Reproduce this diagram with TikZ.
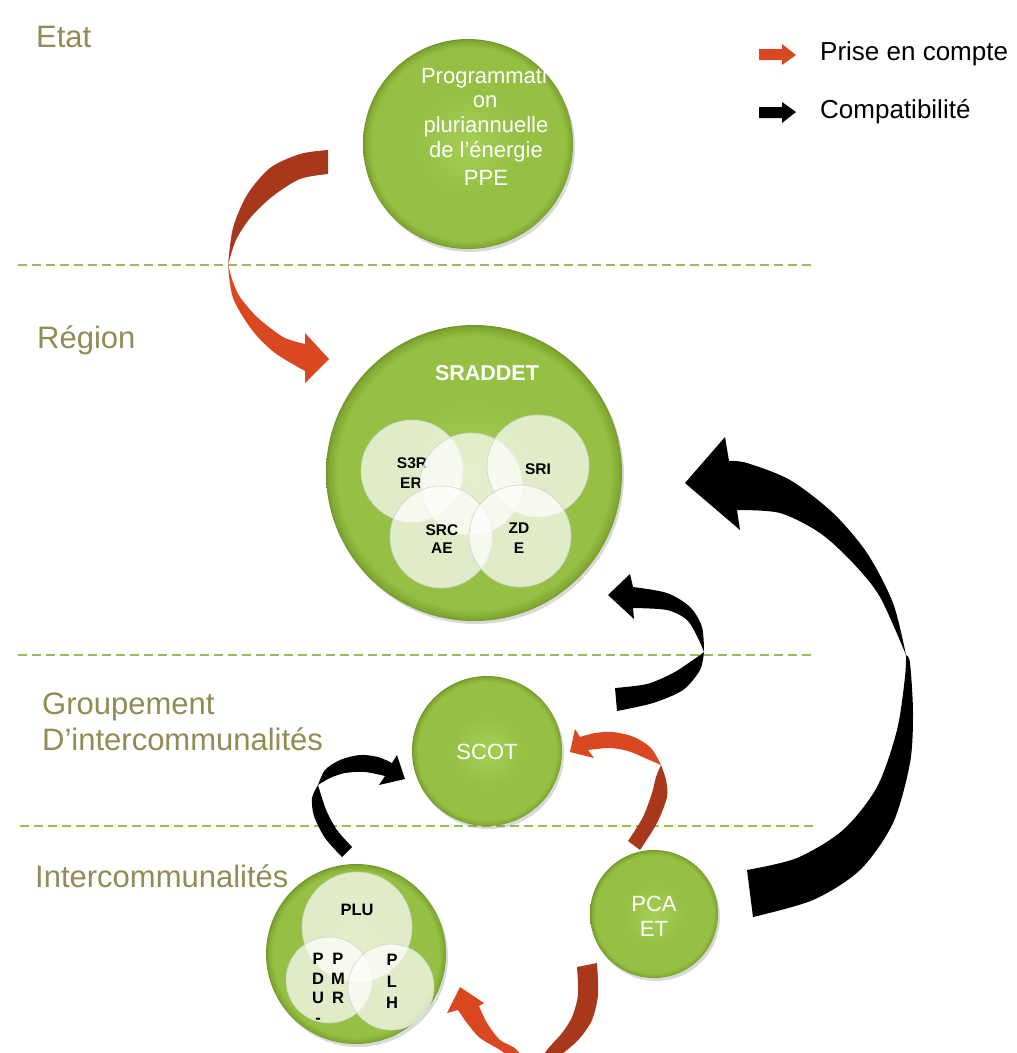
\documentclass[tikz,border=0pt]{standalone}
\usepackage{fontspec}
\setmainfont{Liberation Sans}
\usetikzlibrary{shadows}
\definecolor{olivetxt}{RGB}{148,138,84}
\definecolor{dashgreen}{RGB}{155,187,89}
\definecolor{arrowdark}{RGB}{168,56,28}
\definecolor{arrowbright}{RGB}{217,72,32}
\definecolor{gA}{RGB}{166,206,86}
\definecolor{gB}{RGB}{150,192,68}
\definecolor{gC}{RGB}{128,168,50}
\definecolor{gD}{RGB}{112,150,40}
\pgfdeclareradialshading{greenball}{\pgfpoint{0bp}{0bp}}{color(0bp)=(gA); color(12bp)=(gB); color(23bp)=(gB); color(24.6bp)=(gC); color(25bp)=(gD); color(50bp)=(gD)}
\tikzset{
  bigc/.style={circle, shading=greenball, minimum size=#1, inner sep=0pt,
    drop shadow={opacity=0.3, shadow xshift=2pt, shadow yshift=-3pt}},
  softc/.style={circle, fill=white, fill opacity=0.7, draw=black!18, line width=0.6pt, minimum size=#1, inner sep=0pt},
  lbl/.style={text=olivetxt, font=\fontsize{31}{36}\selectfont, inner sep=0pt, anchor=base west},
  wtxt/.style={text=white, font=\fontsize{22}{25}\selectfont, inner sep=0pt, anchor=base},
  wbold/.style={text=white, font=\bfseries\fontsize{21.5}{25}\selectfont, inner sep=0pt, anchor=base},
  btxt/.style={text=black, font=\bfseries\fontsize{15.5}{18}\selectfont, inner sep=0pt, anchor=base},
  bptxt/.style={text=black, font=\bfseries\fontsize{16.5}{18}\selectfont, inner sep=0pt, anchor=base},
  legtxt/.style={text=black, font=\fontsize{26}{30}\selectfont, inner sep=0pt, anchor=west},
  sepline/.style={dashgreen, line width=1.8pt, dash pattern=on 9pt off 5pt},
}
\begin{document}
\begin{tikzpicture}[x=1pt, y=-1pt]
\useasboundingbox (0,0) rectangle (1017,1053);

% level separators
\draw[sepline] (18,265) -- (812,265);
\draw[sepline] (18,655) -- (812,655);
\draw[sepline] (20,826) -- (814,826);

% level labels
\node[lbl] (etat) at (36,47) {Etat};
\node[lbl] (region) at (37,348) {Région};
\node[lbl] (grp1) at (42,714) {Groupement};
\node[lbl] (grp2) at (42,750) {D’intercommunalités};
\node[lbl] (interco) at (35,887) {Intercommunalités};

% legend
\fill[arrowbright] (759,49) -- (782,49) -- (782,44) -- (796,55) -- (782,65) -- (782,60) -- (759,60) -- cycle;
\fill[black] (759,107) -- (782,107) -- (782,102) -- (796,112) -- (782,123) -- (782,118) -- (759,118) -- cycle;
\node[legtxt] (leg1) at (820,54) {Prise en compte};
\node[legtxt] (leg2) at (820,112) {Compatibilité};

% PPE
\node[bigc=210pt] (ppe) at (468,144) {};
\node[wtxt] (ppe1) at (484,83) {Programmati};
\node[wtxt] (ppe2) at (485,107) {on};
\node[wtxt] (ppe3) at (486,132) {pluriannuelle};
\node[wtxt] (ppe4) at (486,157) {de l’énergie};
\node[wtxt] (ppe5) at (486,185) {PPE};

% SRADDET
\node[bigc=296pt] (srad) at (474,473) {};
\node[wbold] (sradt) at (487,380) {SRADDET};
\node[softc=102pt] (s3rer) at (412,471) {};
\node[btxt] (s3rer1) at (412,468) {S3R};
\node[btxt] (s3rer2) at (411,488) {ER};
\node[softc=102pt] (mid) at (471,484) {};
\node[softc=102pt] (sri) at (538,466) {};
\node[btxt] (srit) at (538,474) {SRI};
\node[softc=102pt] (srcae) at (441,537) {};
\node[btxt] (srcae1) at (442,535) {SRC};
\node[btxt] (srcae2) at (442,553) {AE};
\node[softc=102pt] (zde) at (520,536) {};
\node[btxt] (zde1) at (519,533) {ZD};
\node[btxt] (zde2) at (519,553) {E};

% SCOT
\node[bigc=150pt] (scot) at (487,751) {};
\node[wtxt] (scott) at (487,759) {SCOT};

% PCAET
\node[bigc=128pt] (pcaet) at (654,914) {};
\node[wtxt] (pcaet1) at (654,911) {PCA};
\node[wtxt] (pcaet2) at (654,936) {ET};

% PLU group
\node[bigc=180pt] (plug) at (356,954) {};
\node[softc=110pt] (plu) at (357,927) {};
\node[bptxt] (plut) at (357,915) {PLU};
\node[softc=86pt] (pdu) at (329,980) {};
\node[bptxt] (pdu1) at (318,964) {P};
\node[bptxt] (pdu2) at (318,984) {D};
\node[bptxt] (pdu3) at (318,1003) {U};
\node[bptxt] (pdu4) at (318,1023) {-};
\node[bptxt] (pmr1) at (338,964) {P};
\node[bptxt] (pmr2) at (338,984) {M};
\node[bptxt] (pmr3) at (338,1003) {R};
\node[softc=86pt] (plh) at (391,987) {};
\node[bptxt] (plh1) at (392,965) {P};
\node[bptxt] (plh2) at (392,987) {L};
\node[bptxt] (plh3) at (392,1008) {H};

% Arrow PPE -> SRADDET (prise en compte)
\fill[arrowdark] plot[smooth] coordinates {(328,150) (300,154) (270,168) (247,195) (233,228) (228,265)}
  -- plot[smooth] coordinates {(228,265) (236,240) (251,217) (273,196) (300,179) (328,174)} -- cycle;
\fill[arrowbright] plot[smooth] coordinates {(228,265) (233,298) (252,330) (275,353) (305,371)}
  -- (305,383) -- (329,359) -- (305,333) -- (305,344)
  -- plot[smooth] coordinates {(305,344) (283,337) (257,317) (240,297) (233,282) (228,265)} -- cycle;

% Arrow SCOT -> SRADDET (compatibilite)
\fill[black] plot[smooth] coordinates {(615,688) (647,684) (673,673) (693,660) (704,652)}
  -- plot[smooth] coordinates {(704,652) (700,670) (683,690) (653,703) (617,711)} -- cycle;
\fill[black] plot[smooth] coordinates {(704,652) (702,627) (690,607) (667,593) (633,587)}
  -- (630,574) -- (608,595) -- (634,619) -- (633,608)
  -- plot[smooth] coordinates {(633,608) (667,610) (687,620) (698,638) (704,652)} -- cycle;

% Arrow PLU -> SCOT (compatibilite)
\fill[black] plot[smooth] coordinates {(342,857) (325,838) (314,816) (312,798) (318,785)}
  -- plot[smooth] coordinates {(318,785) (322,798) (327,812) (337,830) (352,847)} -- cycle;
\fill[black] plot[smooth] coordinates {(318,785) (325,770) (340,760) (360,755) (378,757) (392,763)}
  -- (397,755) -- (405,779) -- (379,785) -- (385,776)
  -- plot[smooth] coordinates {(385,776) (365,772) (345,773) (330,778) (318,785)} -- cycle;

% Arrow PCAET -> SCOT (prise en compte)
\fill[arrowdark] plot[smooth] coordinates {(628,841) (643,817) (652,793) (656,777) (661,765)}
  -- plot[smooth] coordinates {(661,765) (666,780) (667,797) (657,823) (640,850)} -- cycle;
\fill[arrowbright] plot[smooth] coordinates {(661,765) (651,748) (634,737) (613,732) (595,733) (580,737)}
  -- (575,729) -- (570,752) -- (594,758) -- (588,750)
  -- plot[smooth] coordinates {(588,750) (610,748) (628,751) (645,758) (661,765)} -- cycle;

% Arrow PCAET -> PLU group (prise en compte), runs past the bottom edge
\begin{scope}
\clip (0,0) rectangle (1017,1053);
\fill[arrowdark] plot[smooth] coordinates {(597,963) (598,995) (592,1020) (580,1038) (567,1050) (550,1063) (530,1074)}
  -- plot[smooth] coordinates {(530,1074) (547,1050) (562,1033) (572,1017) (578,995) (577,967)} -- cycle;
\fill[arrowbright] plot[smooth] coordinates {(530,1074) (517,1050) (500,1040) (487,1023) (479,1006)}
  -- (484,1003) -- (460,987) -- (447,1013) -- (458,1010)
  -- plot[smooth] coordinates {(458,1010) (467,1023) (480,1038) (503,1052) (530,1074)} -- cycle;
\end{scope}

% Arrow PCAET -> SRADDET (compatibilite)
\fill[black] plot[smooth] coordinates {(747,870) (797,858) (843,830) (877,787) (897,730) (905,677) (906,655)}
  -- plot[smooth] coordinates {(906,655) (910,663) (913,713) (910,763) (893,823) (860,870) (813,900) (753,917)} -- cycle;
\fill[black] plot[smooth] coordinates {(906,655) (893,603) (867,553) (833,513) (790,480) (747,463) (729,461)}
  -- (725,437) -- (685,483) -- (740,530) -- (737,510)
  -- plot[smooth] coordinates {(737,510) (780,513) (820,533) (853,563) (880,597) (906,655)} -- cycle;
\end{tikzpicture}
\end{document}
